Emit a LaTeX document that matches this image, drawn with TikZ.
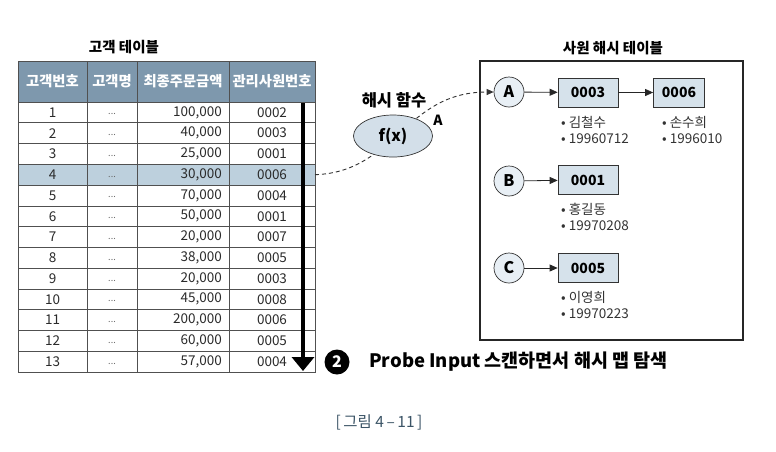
\documentclass[tikz,border=0pt]{standalone}
\usepackage{fontspec}
\setmainfont{Noto Sans CJK KR}
\usetikzlibrary{arrows.meta,shapes.geometric}
\definecolor{hdr}{HTML}{7E98AD}
\definecolor{hil}{HTML}{BDD0DD}
\definecolor{boxf}{HTML}{D6E2EB}
\definecolor{circf}{HTML}{E8EFF5}
\definecolor{ellf}{HTML}{D3DFE9}
\definecolor{capc}{HTML}{3B5466}
\definecolor{gridc}{HTML}{505050}
\definecolor{txt}{HTML}{2A2A2A}
\begin{document}
\begin{tikzpicture}[x=1pt,y=-1pt,
  cell/.style={inner sep=0pt,text=txt,font=\fontsize{13.5}{15}\selectfont},
  hcell/.style={inner sep=0pt,text=white,font=\bfseries\fontsize{14.3}{16}\selectfont},
  title/.style={inner sep=0pt,font=\bfseries\fontsize{14.5}{16}\selectfont},
  circ/.style={circle,draw=black!80,fill=circf,minimum size=30pt,inner sep=0pt,line width=0.7pt,font=\bfseries\fontsize{16}{16}\selectfont},
  kbox/.style={rectangle,draw=black!80,fill=boxf,minimum height=29pt,inner sep=0pt,line width=0.7pt,font=\bfseries\fontsize{14}{14}\selectfont},
  info/.style={anchor=west,align=left,inner sep=0pt,text=black!80,font=\fontsize{13.5}{16}\selectfont},
  link/.style={-{Triangle[width=7pt,length=8pt]},line width=0.8pt,black!85}
]
\useasboundingbox (0,0) rectangle (776,451);
\def\rh{20.77}
% table title
\node[title] (ttl) at (124,47) {고객 테이블};
% header and highlighted row
\fill[hdr] (18,61) rectangle (315,102);
\fill[hil] (18,{102+3*\rh}) rectangle (315,{102+4*\rh});
% grid
\foreach \i in {0,...,12} {
  \draw[gridc,line width=0.6pt] (18,{102+\i*\rh}) -- (315,{102+\i*\rh});
}
\foreach \x in {87,137,229} {
  \draw[gridc,line width=0.6pt] (\x,61) -- (\x,{102+13*\rh});
}
\draw[gridc,line width=0.9pt] (18,61) rectangle (315,{102+13*\rh});
% header text
\node[hcell] (h1) at (52.5,81.5) {고객번호};
\node[hcell] (h2) at (112,81.5) {고객명};
\node[hcell] (h3) at (183,81.5) {최종주문금액};
\node[hcell] (h4) at (272,81.5) {관리사원번호};
% rows
\foreach \n/\p/\e [count=\i] in {1/{100,000}/0002,2/{40,000}/0003,3/{25,000}/0001,4/{30,000}/0006,5/{70,000}/0004,6/{50,000}/0001,7/{20,000}/0007,8/{38,000}/0005,9/{20,000}/0003,10/{45,000}/0008,11/{200,000}/0006,12/{60,000}/0005,13/{57,000}/0004} {
  \node[cell] (n\i) at (52.5,{102+(\i-0.5)*\rh}) {\n};
  \node[cell,text=black!60,font=\fontsize{9}{10}\selectfont] (d\i) at (112,{102+(\i-0.5)*\rh+2}) {...};
  \node[cell,anchor=east] (p\i) at (222,{102+(\i-0.5)*\rh}) {\p};
  \node[cell] (e\i) at (272,{102+(\i-0.5)*\rh}) {\e};
}
% scan arrow
\coordinate (sa) at (303,103);
\coordinate (sb) at (303,371);
\draw[line width=4pt,-{Triangle[width=22pt,length=14pt]}] (sa) -- (sb);
% hash function label
\coordinate (r4e) at (315,{102+3.5*\rh});
\node[title,font=\bfseries\fontsize{16.5}{18}\selectfont] (hl) at (394,100) {해시 함수};
% right box
\node[title] (rt) at (613,48) {사원 해시 테이블};
\draw[line width=1.3pt,black!85] (480,61) rectangle (743,340);
\node[circ] (A) at (509,92) {A};
\node[circ] (B) at (509,181) {B};
\node[circ] (C) at (509,268) {C};
\node[kbox,minimum width=60pt] (k3) at (588,92.5) {0003};
\node[kbox,minimum width=51pt] (k6) at (679,92.5) {0006};
\node[kbox,minimum width=60pt] (k1) at (588,180) {0001};
\node[kbox,minimum width=60pt] (k5) at (588,268) {0005};
\draw[link] (A) -- (k3);
\draw[link] (k3) -- (k6);
\draw[link] (B) -- (k1);
\draw[link] (C) -- (k5);
\node[info] (i3) at (561,130) {• 김철수\\• 19960712};
\node[info] (i6) at (662,130) {• 손수희\\• 1996010};
\node[info] (i1) at (561,217) {• 홍길동\\• 19970208};
\node[info] (i5) at (561,305) {• 이영희\\• 19970223};
% dashed hash path (passes behind the ellipse)
\draw[line width=0.9pt,black!80,dash pattern=on 4pt off 3pt,-{Triangle[width=6pt,length=7pt]}] (r4e) .. controls (395,172) and (405,92) .. (A.west);
\node[ellipse,draw=black!80,fill=ellf,minimum width=79pt,minimum height=42pt,inner sep=0pt,line width=0.7pt,font=\bfseries\fontsize{16}{16}\selectfont] (fx) at (393,136) {f(x)};
\node[title,font=\bfseries\fontsize{14}{15}\selectfont] (al) at (438,120) {A};
% step 2
\node[circle,fill=black,minimum size=25pt,inner sep=0pt,text=white,font=\bfseries\fontsize{16}{16}\selectfont] (two) at (337,362) {2};
\node[anchor=west,inner sep=0pt,font=\bfseries\fontsize{18.5}{20}\selectfont] (st) at (369,362) {Probe Input 스캔하면서 해시 맵 탐색};
% caption
\node[inner sep=0pt,text=capc,font=\fontsize{15.5}{17}\selectfont] (cap) at (379,422) {[\,그림 4\,–\,11\,]};
\end{tikzpicture}
\end{document}
